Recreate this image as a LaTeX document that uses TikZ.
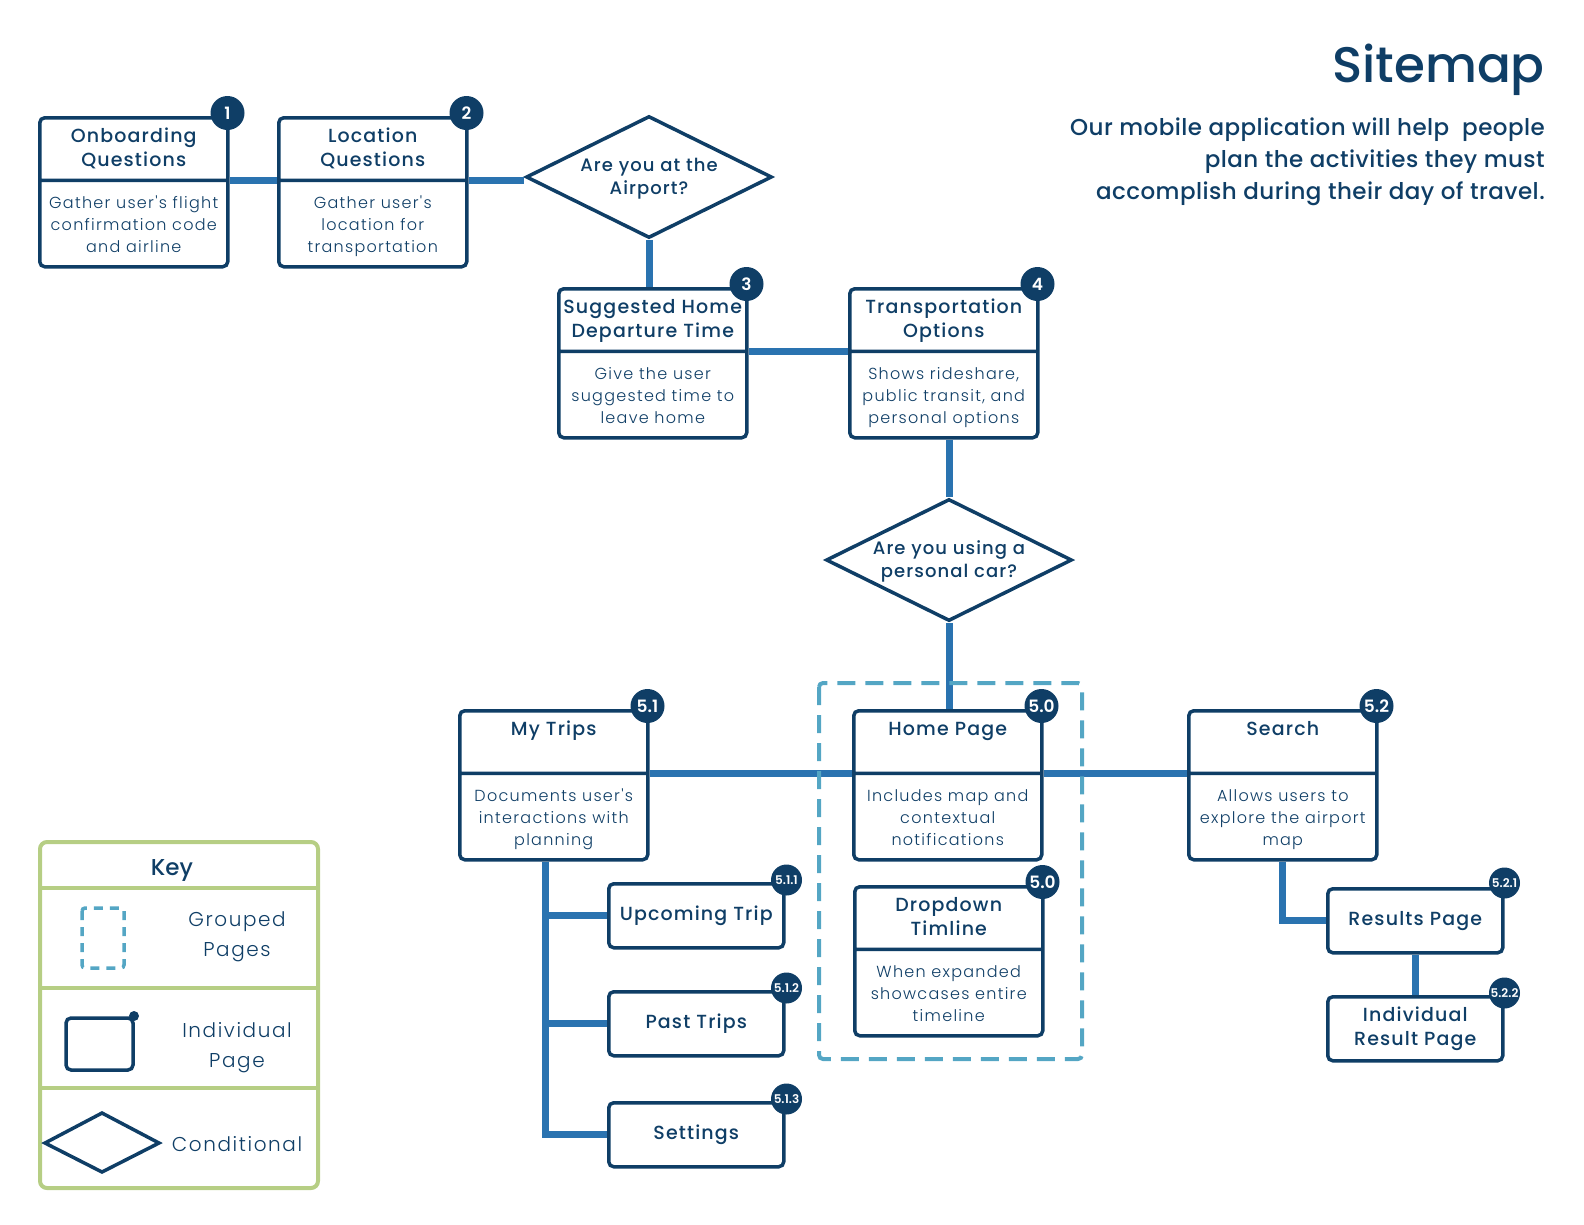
\documentclass[tikz,border=0pt]{standalone}
\usepackage{fontspec}
\setmainfont{Poppins}
\newfontfamily\semib{Poppins Medium}[LetterSpace=6]
\newfontfamily\lightf{Poppins Light}[LetterSpace=8]
\newfontfamily\medf{Poppins Medium}[LetterSpace=2]
\newfontfamily\headf{Poppins Medium}
\newfontfamily\numf{Poppins SemiBold}
\usepackage{tikz}
\usetikzlibrary{shapes,shapes.multipart,shapes.geometric,positioning}

\definecolor{navy}{HTML}{0F3E66}
\definecolor{linkblue}{HTML}{2A73B0}
\definecolor{groupteal}{HTML}{54A6C4}
\definecolor{keygreen}{HTML}{B6CE84}

\newcommand{\titlef}{\semib\fontsize{19pt}{24pt}\selectfont}
\newcommand{\descf}{\lightf\fontsize{16pt}{22pt}\selectfont}
\newcommand{\condf}{\semib\fontsize{18pt}{23pt}\selectfont}
\newcommand{\badgef}{\numf\fontsize{17pt}{20pt}\selectfont}
\newcommand{\smallbadgef}{\numf\fontsize{12pt}{14pt}\selectfont}
\newcommand{\subf}{\medf\fontsize{23pt}{32pt}\selectfont}
\newcommand{\keyf}{\lightf\fontsize{20pt}{30pt}\selectfont}
% fixed-height halves of a page box
\newcommand{\ptitle}[1]{\parbox[c][59pt][t]{188pt}{\centering\titlef\rule{0pt}{23pt}#1}}
\newcommand{\pdesc}[1]{\parbox[c][83pt][t]{188pt}{\centering\descf\rule{0pt}{26pt}#1}}

\tikzstyle{page}=[rectangle split, rectangle split parts=2, draw=navy,% title on top, note below
line width=3.5pt, rounded corners=5pt, fill=white, inner sep=0pt, text=navy, anchor=north west]
\tikzstyle{subpage}=[rectangle, draw=navy, line width=3.5pt, rounded corners=5pt, fill=white,
minimum width=175pt, minimum height=64pt, inner sep=0pt, align=center, font=\titlef, text=navy, anchor=north west]
\tikzstyle{cond}=[diamond, draw=navy, line width=3.5pt, fill=white, aspect=2, inner sep=0pt,
minimum width=246pt, minimum height=122pt, align=center, font=\condf, text=navy]
\tikzstyle{badge}=[circle, fill=navy, text=white, minimum size=34pt, inner sep=0pt, font=\badgef]
\tikzstyle{smallbadge}=[circle, fill=navy, text=white, minimum size=31pt, inner sep=0pt, font=\smallbadgef]
\tikzstyle{link}=[draw=linkblue, line width=7pt]
\tikzstyle{group}=[draw=groupteal, line width=4pt, dash pattern=on 18pt off 10pt, rounded corners=4pt]
\tikzstyle{keytext}=[font=\keyf, text=navy, align=center, inner sep=0pt]

\begin{document}
\begin{tikzpicture}[x=1pt,y=-1pt]
\useasboundingbox (0,0) rectangle (1584,1224);

\node[anchor=base east, inner sep=0pt, font=\headf\fontsize{50pt}{56pt}\selectfont, text=navy] (title) at (1545,82) {Sitemap};
\node[anchor=north east, inner sep=0pt, align=right, font=\subf, text=navy] (intro) at (1545,118)
{Our mobile application will help\ \ people\\plan the activities they must\\accomplish during their day of travel.};

% pages
\node[page] (onb) at (38,116) {\ptitle{Onboarding\\Questions}\nodepart{two}\pdesc{Gather user's flight\\confirmation code\\and airline}};
\node[page] (loc) at (277,116) {\ptitle{Location\\Questions}\nodepart{two}\pdesc{Gather user's\\location for\\transportation}};
\node[cond] (q1) at (649,177) {\rule{0pt}{17pt}Are you at the\\Airport?};
\node[page] (sug) at (557,287) {\ptitle{Suggested Home\\Departure Time}\nodepart{two}\pdesc{Give the user\\suggested time to\\leave home}};
\node[page] (trn) at (848,287) {\ptitle{Transportation\\Options}\nodepart{two}\pdesc{Shows rideshare,\\public transit, and\\personal options}};
\node[cond] (q2) at (949,560) {\rule{0pt}{17pt}Are you using a\\personal car?};
\node[page] (trips) at (458,709) {\ptitle{My Trips}\nodepart{two}\pdesc{Documents user's\\interactions with\\planning}};
\node[page] (home) at (852,709) {\ptitle{Home Page}\nodepart{two}\pdesc{Includes map and\\contextual\\notifications}};
\node[page] (srch) at (1187,709) {\ptitle{Search}\nodepart{two}\pdesc{Allows users to\\explore the airport\\map}};
\node[page] (drop) at (853,885) {\ptitle{Dropdown\\Timline}\nodepart{two}\pdesc{When expanded\\showcases entire\\timeline}};
\node[subpage] (upc) at (607,882) {Upcoming Trip};
\node[subpage] (past) at (607,990) {Past Trips};
\node[subpage] (sett) at (607,1101) {Settings};
\node[subpage] (res) at (1326,887) {Results Page};
\node[subpage] (indiv) at (1326,995) {Individual\\Result Page};

% connectors
\draw[link] (onb.text split east) -- (loc.text split west);
\draw[link] (loc.text split east) -- (loc.text split east -| q1.west);
\draw[link] (q1.south) -- (q1.south |- sug.north);
\draw[link] (sug.text split east) -- (trn.text split west);
\draw[link] (q2.north |- trn.south) -- (q2.north);
\draw[link] (q2.south) -- (q2.south |- home.north);
\draw[link] (trips.text split east) -- (home.text split west);
\draw[link] (home.text split east) -- (srch.text split west);
\draw[link] ([xshift=-8pt]trips.south) |- (upc.west);
\draw[link] ([xshift=-8pt]trips.south) |- (past.west);
\draw[link] ([xshift=-8pt]trips.south) |- (sett.west);
\draw[link] (srch.south) |- (res.west);
\draw[link] (res.south) -- (indiv.north);

\draw[group] (819,683) rectangle (1082,1059);

% page numbers
\node[badge] (onb-n) at ([shift={(-2pt,3pt)}]onb.north east) {1};
\node[badge] (loc-n) at ([shift={(-2pt,3pt)}]loc.north east) {2};
\node[badge] (sug-n) at ([shift={(-2pt,3pt)}]sug.north east) {3};
\node[badge] (trn-n) at ([shift={(-2pt,3pt)}]trn.north east) {4};
\node[badge] (trips-n) at ([shift={(-2pt,3pt)}]trips.north east) {5.1};
\node[badge] (home-n) at ([shift={(-2pt,3pt)}]home.north east) {5.0};
\node[badge] (srch-n) at ([shift={(-2pt,3pt)}]srch.north east) {5.2};
\node[badge] (drop-n) at ([shift={(-2pt,3pt)}]drop.north east) {5.0};
\node[smallbadge] (upc-n) at ([shift={(1pt,2pt)}]upc.north east) {5.1.1};
\node[smallbadge] (past-n) at ([shift={(1pt,2pt)}]past.north east) {5.1.2};
\node[smallbadge] (sett-n) at ([shift={(1pt,2pt)}]sett.north east) {5.1.3};
\node[smallbadge] (res-n) at ([shift={(0pt,4pt)}]res.north east) {5.2.1};
\node[smallbadge] (indiv-n) at ([shift={(0pt,2pt)}]indiv.north east) {5.2.2};

% key
\node[draw=keygreen, line width=4pt, rounded corners=7pt, minimum width=278pt, minimum height=346pt,
inner sep=0pt, anchor=north west] (key) at (38,840) {};
\foreach \y in {888,988,1088}
  \draw[draw=keygreen, line width=4pt] (key.west |- 0,\y) -- (key.east |- 0,\y);
\node[anchor=base, inner sep=0pt, font=\headf\fontsize{23pt}{28pt}\selectfont, text=navy] (key-t) at (172,875) {Key};
\draw[group, line width=3.5pt, dash pattern=on 9pt off 7pt, rounded corners=3pt] (82,908) rectangle (124,968);
\node[keytext] (key-g) at (237,937) {Grouped\\Pages};
\draw[navy, line width=3.5pt, rounded corners=5pt] (66,1018) rectangle (133,1070);
\fill[navy] (134,1016) circle (5pt);
\node[keytext] (key-i) at (237,1048) {Individual\\Page};
\draw[navy, line width=3.5pt] (45,1143) -- (102,1113) -- (159,1143) -- (102,1172) -- cycle;
\node[keytext, anchor=base] (key-c) at (237,1151) {Conditional};
\end{tikzpicture}
\end{document}
